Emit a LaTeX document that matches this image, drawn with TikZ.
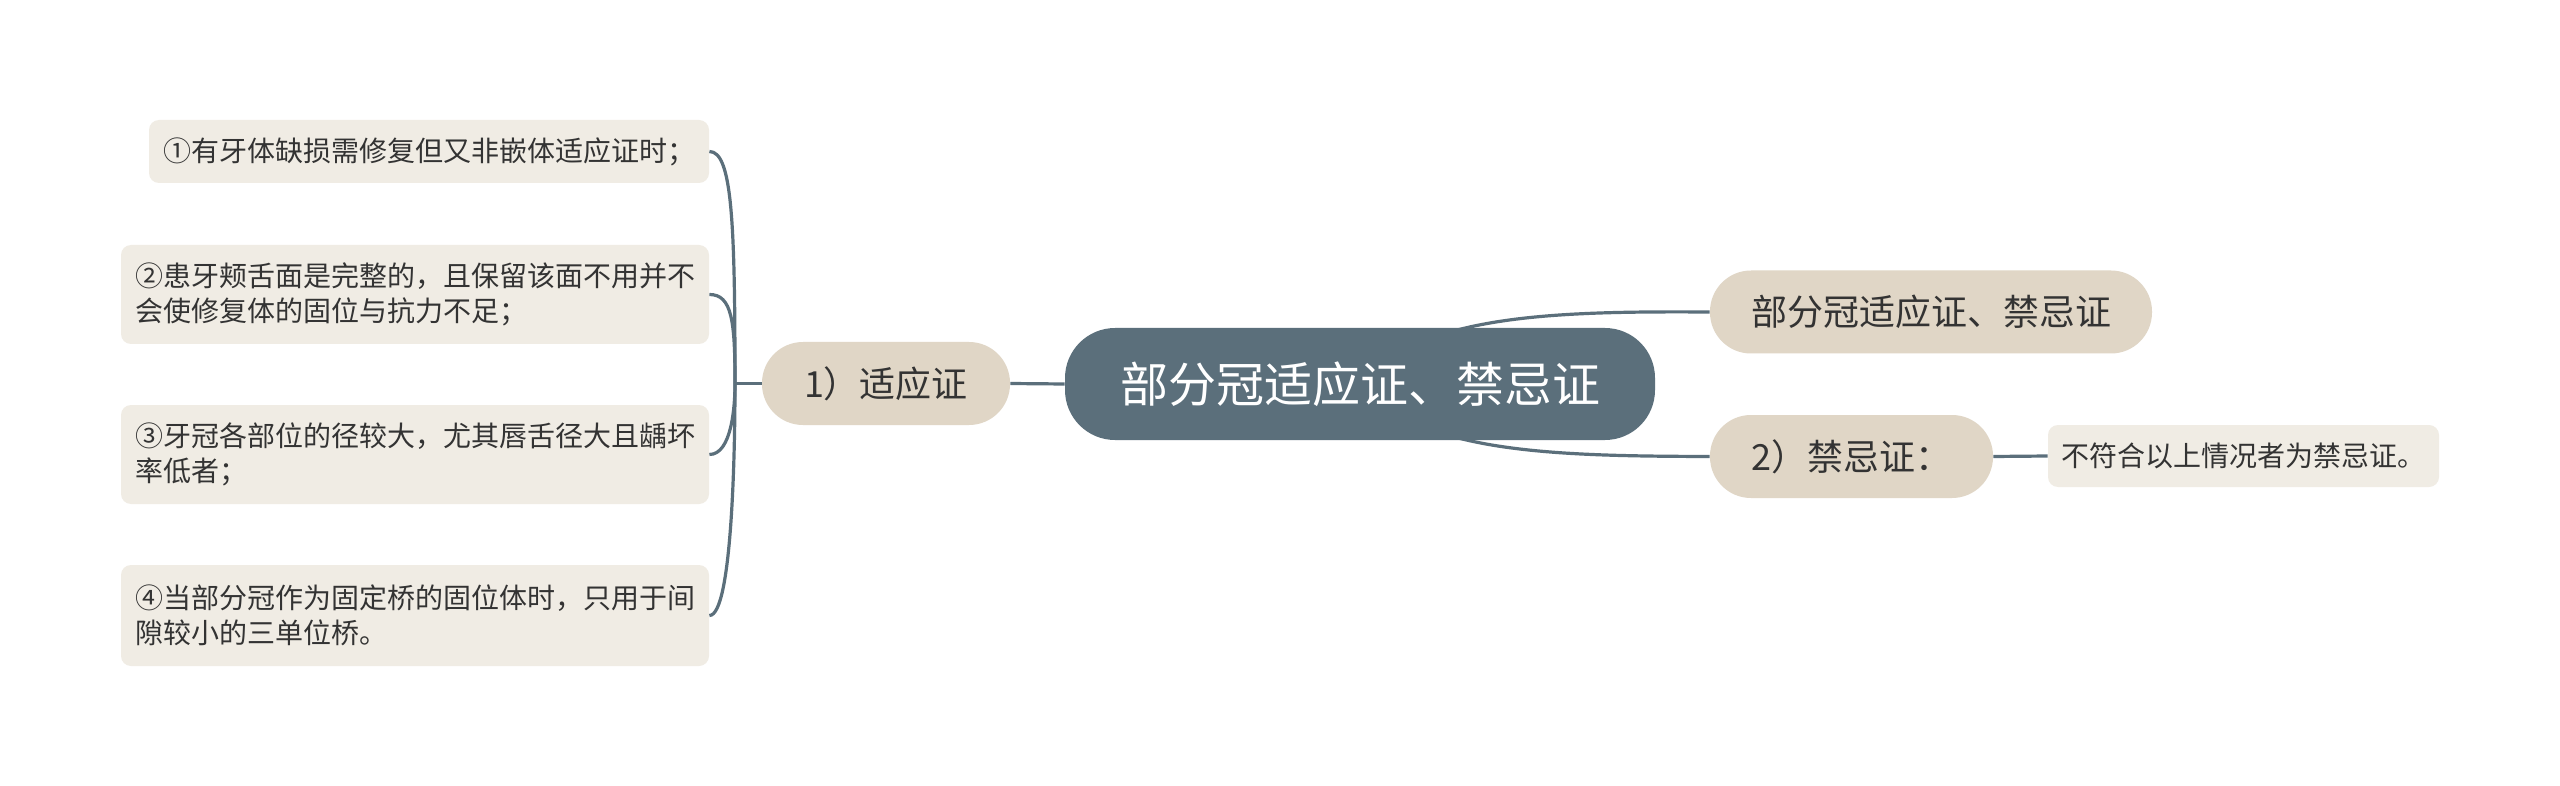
\documentclass[tikz,border=0pt]{standalone}
\usepackage{fontspec}
\setmainfont{Noto Sans CJK SC}
\usetikzlibrary{backgrounds}
\definecolor{mainfill}{HTML}{5B6F7B}
\definecolor{subfill}{HTML}{E0D6C6}
\definecolor{leaffill}{HTML}{F0ECE4}
\definecolor{linecol}{HTML}{5B6F7B}
\definecolor{txt}{HTML}{333333}
\tikzset{
  mainbox/.style={fill=mainfill, text=white, rounded corners=25pt, inner sep=0pt,
    minimum width=295pt, minimum height=56pt, font=\fontsize{24pt}{28pt}\selectfont},
  subbox/.style={fill=subfill, text=txt, rounded corners=20.5pt, inner sep=0pt,
    minimum height=41.5pt, font=\fontsize{18pt}{22pt}\selectfont},
  leafbox/.style={fill=leaffill, text=txt, rounded corners=5pt, inner sep=0pt,
    align=left, font=\fontsize{14pt}{17.5pt}\selectfont},
  conn/.style={draw=linecol, line width=1.6pt},
}
\begin{document}
\begin{tikzpicture}[x=0.5pt,y=-0.5pt]
\useasboundingbox (0,0) rectangle (2560,786);
% nodes
\node[mainbox] (main) at (1360,384) {部分冠适应证、禁忌证};
\node[subbox, minimum width=221pt] (top) at (1931,312) {部分冠适应证、禁忌证};
\node[subbox, minimum width=141.5pt] (n2) at (1851.5,456.5) {2）禁忌证：};
\node[subbox, minimum width=124pt] (n1) at (886,383.5) {1）适应证};
\node[leafbox, minimum width=195.5pt, minimum height=31pt] (leaf) at (2243.5,456) {不符合以上情况者为禁忌证。};
\node[leafbox, minimum width=280pt, minimum height=31.5pt] (b1) at (429,151.5) {①有牙体缺损需修复但又非嵌体适应证时；};
\node[leafbox, minimum width=294pt, minimum height=49.5pt] (b2) at (415,294.5) {②患牙颊舌面是完整的，且保留该面不用并不\\会使修复体的固位与抗力不足；};
\node[leafbox, minimum width=294pt, minimum height=49.5pt] (b3) at (415,454.5) {③牙冠各部位的径较大，尤其唇舌径大且龋坏\\率低者；};
\node[leafbox, minimum width=294pt, minimum height=50.5pt] (b4) at (415,615.5) {④当部分冠作为固定桥的固位体时，只用于间\\隙较小的三单位桥。};
% connectors
\begin{scope}[on background layer]
\fill[white] (0,0) rectangle (2560,786);
\draw[conn] (main.center) .. controls (1420,315) and (1550,311) .. (top.west);
\draw[conn] (main.center) .. controls (1420,453) and (1550,456) .. (n2.west);
\end{scope}
\draw[conn] (main.west) -- (n1.east);
\draw[conn] (n2.east) -- (leaf.west);
\coordinate (br) at (735,383.5);
\draw[conn] (n1.west) -- (br);
\draw[conn] (br) .. controls (735,221) and (732,151.5) .. (b1.east);
\draw[conn] (br) .. controls (735,321) and (732,294.5) .. (b2.east);
\draw[conn] (br) .. controls (735,405) and (732,454.5) .. (b3.east);
\draw[conn] (br) .. controls (735,453) and (732,615.5) .. (b4.east);
\end{tikzpicture}
\end{document}
